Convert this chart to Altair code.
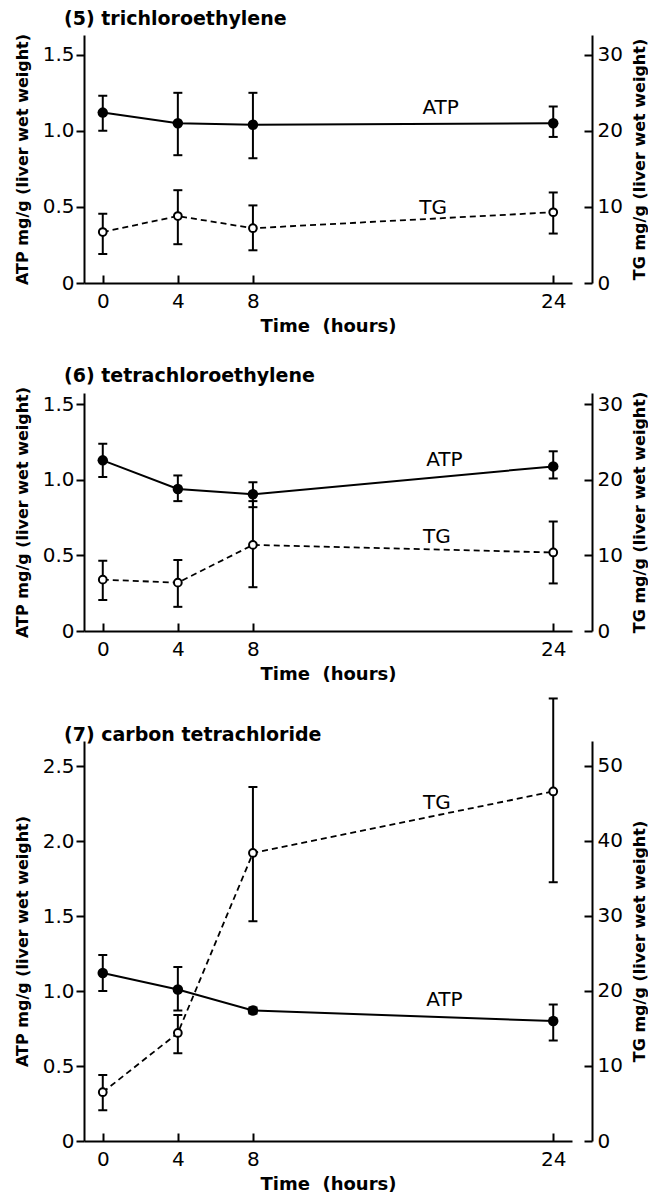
import altair as alt
import pandas as pd

HOURS = [0, 4, 8, 24]

# (5) trichloroethylene
TRI_ATP = [1.12, 1.05, 1.04, 1.05]
TRI_ATP_LO = [1.00, 0.84, 0.82, 0.96]
TRI_ATP_HI = [1.23, 1.25, 1.25, 1.16]
TRI_TG = [6.7, 8.8, 7.2, 9.3]
TRI_TG_LO = [3.8, 5.1, 4.3, 6.5]
TRI_TG_HI = [9.1, 12.2, 10.2, 11.9]

# (6) tetrachloroethylene
TET_ATP = [1.13, 0.94, 0.905, 1.09]
TET_ATP_LO = [1.02, 0.86, 0.82, 1.01]
TET_ATP_HI = [1.24, 1.03, 0.985, 1.19]
TET_TG = [6.8, 6.4, 11.4, 10.4]
TET_TG_LO = [4.1, 3.2, 5.8, 6.3]
TET_TG_HI = [9.3, 9.4, 17.2, 14.5]

# (7) carbon tetrachloride
CCL_ATP = [1.12, 1.01, 0.87, 0.80]
CCL_ATP_LO = [1.00, 0.87, 0.85, 0.67]
CCL_ATP_HI = [1.24, 1.16, 0.89, 0.91]
CCL_TG = [6.5, 14.4, 38.4, 46.6]
CCL_TG_LO = [4.1, 11.7, 29.3, 34.5]
CCL_TG_HI = [8.8, 16.8, 47.2, 59.0]

TITLES = ["(5) trichloroethylene", "(6) tetrachloroethylene", "(7) carbon tetrachloride"]
ATP_TICKS = [[0, 0.5, 1.0, 1.5], [0, 0.5, 1.0, 1.5], [0, 0.5, 1.0, 1.5, 2.0, 2.5]]
TG_TICKS = [[0, 10, 20, 30], [0, 10, 20, 30], [0, 10, 20, 30, 40, 50]]
ATP_MAX = [1.63, 1.576, 2.667]
TG_MAX = [32.6, 31.52, 53.33]
# annotation anchors (hours, value)
ATP_LABEL_T = [18.0, 18.2, 18.2]
ATP_LABEL_V = [1.15, 1.13, 0.94]
TG_LABEL_T = [17.6, 17.8, 17.8]
TG_LABEL_V = [9.8, 12.4, 45.1]

FONT = "DejaVu Sans"
W = 488
GAP = 20
HEIGHTS = [248, 238, 400]
TITLE_OFFSETS = [4, 0, -48]


def build_panel(i, atp, atp_lo, atp_hi, tg, tg_lo, tg_hi):
    h = HEIGHTS[i]
    df = pd.DataFrame({"t": HOURS, "atp": atp, "atp_lo": atp_lo, "atp_hi": atp_hi,
                       "tg": tg, "tg_lo": tg_lo, "tg_hi": tg_hi})
    xs = alt.Scale(domain=[-1, 25], nice=False, zero=False)
    x_bot = alt.X("t:Q", scale=xs, axis=alt.Axis(
        orient="bottom", values=HOURS, format="d", ticks=False, grid=False,
        domainColor="black", domainWidth=2, labelFont=FONT, labelFontSize=20,
        labelColor="black", labelPadding=8, title="Time\u00a0\u00a0(hours)", titleFont=FONT,
        titleFontSize=18, titleFontWeight="bold", titleColor="black", titlePadding=6))
    x_top = alt.X("t:Q", scale=xs, axis=alt.Axis(
        orient="top", offset=-h, values=HOURS, labels=False, domain=False, grid=False,
        tickSize=8, tickWidth=2, tickColor="black", title=None))

    ys_atp = alt.Scale(domain=[0, ATP_MAX[i]], nice=False, zero=False)
    ax_atp = alt.Axis(
        orient="left", values=ATP_TICKS[i],
        labelExpr="datum.value == 0 ? '0' : format(datum.value, '.1f')",
        grid=False, domainColor="black", domainWidth=2, tickColor="black", tickWidth=2,
        tickSize=8, labelFont=FONT, labelFontSize=20, labelColor="black", labelPadding=2,
        title="ATP mg/g (liver wet weight)", titleFont=FONT, titleFontSize=16,
        titleFontWeight="bold", titleColor="black", titlePadding=12)

    def ya(field):
        return alt.Y(f"{field}:Q", scale=ys_atp, axis=ax_atp)

    ys_tg = alt.Scale(domain=[0, TG_MAX[i]], nice=False, zero=False)
    ax_tg_r = alt.Axis(
        orient="right", offset=GAP, values=TG_TICKS[i], format="d", grid=False, ticks=False,
        domainColor="black", domainWidth=2, labelFont=FONT, labelFontSize=20,
        labelColor="black", labelPadding=5, title="TG mg/g (liver wet weight)",
        titleAngle=270, titleBaseline="top", titleFont=FONT, titleFontSize=16,
        titleFontWeight="bold", titleColor="black", titlePadding=9)
    ax_tg_l = alt.Axis(
        orient="left", offset=-(W + GAP), values=TG_TICKS[i], labels=False, domain=False,
        grid=False, tickSize=8, tickWidth=2, tickColor="black", title=None)

    def yt(field):
        return alt.Y(f"{field}:Q", scale=ys_tg, axis=ax_tg_r)

    base = alt.Chart(df)
    atp_rule = base.mark_rule(color="black", strokeWidth=2).encode(x=x_bot, y=ya("atp_lo"), y2="atp_hi")
    atp_cap_lo = base.mark_tick(color="black", thickness=2, size=9, orient="horizontal", opacity=1).encode(x=x_bot, y=ya("atp_lo"))
    atp_cap_hi = base.mark_tick(color="black", thickness=2, size=9, orient="horizontal", opacity=1).encode(x=x_bot, y=ya("atp_hi"))
    atp_line = base.mark_line(color="black", strokeWidth=2).encode(x=x_bot, y=ya("atp"))
    atp_pts = base.mark_point(shape="circle", filled=True, color="black", size=110, opacity=1).encode(x=x_bot, y=ya("atp"))
    atp_lab = alt.Chart(pd.DataFrame({"t": [ATP_LABEL_T[i]], "atp": [ATP_LABEL_V[i]], "txt": ["ATP"]})).mark_text(
        font=FONT, fontSize=20, color="black").encode(x=x_bot, y=ya("atp"), text="txt:N")
    atp_group = alt.layer(atp_rule, atp_cap_lo, atp_cap_hi, atp_line, atp_pts, atp_lab)

    tg_line = base.mark_line(color="black", strokeWidth=1.8, strokeDash=[6, 4]).encode(
        x=x_top, y=alt.Y("tg:Q", scale=ys_tg, axis=ax_tg_l))
    tg_rule = base.mark_rule(color="black", strokeWidth=2).encode(x=x_top, y=yt("tg_lo"), y2="tg_hi")
    tg_cap_lo = base.mark_tick(color="black", thickness=2, size=9, orient="horizontal", opacity=1).encode(x=x_top, y=yt("tg_lo"))
    tg_cap_hi = base.mark_tick(color="black", thickness=2, size=9, orient="horizontal", opacity=1).encode(x=x_top, y=yt("tg_hi"))
    tg_pts = base.mark_point(shape="circle", filled=True, fill="white", stroke="black", strokeWidth=2,
                             size=60, opacity=1).encode(x=x_top, y=yt("tg"))
    tg_lab = alt.Chart(pd.DataFrame({"t": [TG_LABEL_T[i]], "tg": [TG_LABEL_V[i]], "txt": ["TG"]})).mark_text(
        font=FONT, fontSize=20, color="black").encode(x=x_top, y=yt("tg"), text="txt:N")
    tg_rest = alt.layer(tg_rule, tg_cap_lo, tg_cap_hi, tg_pts, tg_lab)
    tg_group = alt.layer(tg_line, tg_rest).resolve_axis(y="independent")

    return alt.layer(atp_group, tg_group).resolve_scale(y="independent").resolve_axis(
        x="independent").properties(
        width=W, height=h,
        title=alt.TitleParams(TITLES[i], anchor="start", frame="group", dx=-20,
                              offset=TITLE_OFFSETS[i], font=FONT, fontSize=19,
                              fontWeight="bold", color="black"))


p1 = build_panel(0, TRI_ATP, TRI_ATP_LO, TRI_ATP_HI, TRI_TG, TRI_TG_LO, TRI_TG_HI)
p2 = build_panel(1, TET_ATP, TET_ATP_LO, TET_ATP_HI, TET_TG, TET_TG_LO, TET_TG_HI)
p3 = build_panel(2, CCL_ATP, CCL_ATP_LO, CCL_ATP_HI, CCL_TG, CCL_TG_LO, CCL_TG_HI)

chart = alt.vconcat(p1, p2, p3, spacing=110, bounds="flush").properties(
    padding={"left": 6, "right": 0, "top": 2, "bottom": 0},
    background="white",
).configure_view(strokeWidth=0, stroke="transparent")

chart.save("out.html", embed_options={"renderer": "svg", "actions": False})
